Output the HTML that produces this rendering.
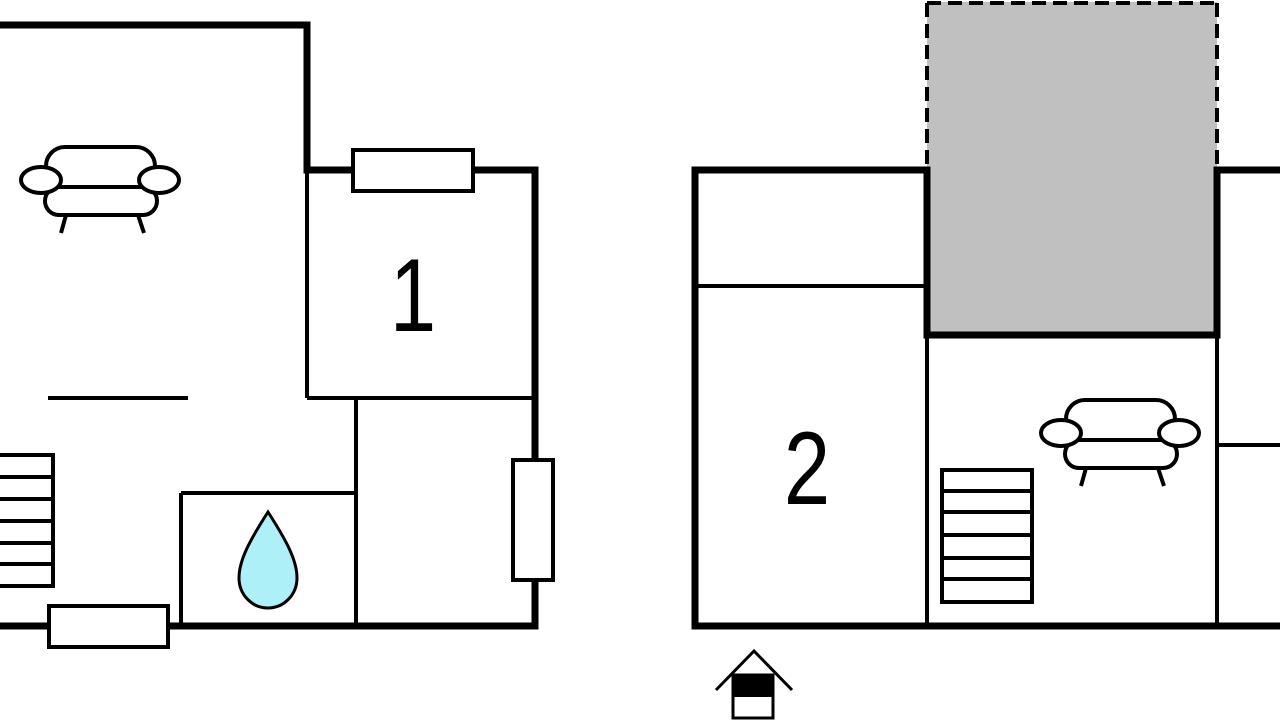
<!DOCTYPE html>
<html><head><meta charset="utf-8"><style>html,body{margin:0;padding:0;background:#fff}svg{display:block}</style></head>
<body>
<svg width="1280" height="720" viewBox="0 0 1280 720" xmlns="http://www.w3.org/2000/svg">
<defs>
<g id="sofa" fill="none" stroke="#000" stroke-width="4">
<rect x="46" y="147" width="109" height="42" rx="19" fill="#fff"/>
<rect x="45" y="187" width="112" height="28" rx="14" fill="#fff"/>
<ellipse cx="41" cy="180" rx="20" ry="13" fill="#fff"/>
<ellipse cx="159" cy="180" rx="20" ry="13" fill="#fff"/>
<line x1="66" y1="215" x2="61" y2="233"/>
<line x1="138" y1="215" x2="144" y2="233"/>
</g>
</defs>
<!-- left building -->
<g fill="none" stroke="#000" stroke-width="4">
<line x1="307" y1="398" x2="535" y2="398"/>
<line x1="356" y1="398" x2="356" y2="626"/>
<line x1="181" y1="493" x2="181" y2="626"/>
<line x1="181" y1="493" x2="356" y2="493"/>
<line x1="48" y1="398" x2="188" y2="398"/>
<line x1="307" y1="170" x2="307" y2="398"/>
</g>
<path d="M0 25 H307 V170 H535 V626 H0" fill="none" stroke="#000" stroke-width="7"/>
<g fill="#fff" stroke="#000" stroke-width="4">
<rect x="353" y="150" width="120" height="41"/>
<rect x="513" y="460" width="40" height="120"/>
<rect x="49" y="606" width="119" height="41"/>
<rect x="-5" y="455" width="58" height="131"/>
</g>
<g stroke="#000" stroke-width="4">
<line x1="0" y1="477" x2="53" y2="477"/><line x1="0" y1="499" x2="53" y2="499"/>
<line x1="0" y1="521" x2="53" y2="521"/><line x1="0" y1="543" x2="53" y2="543"/>
<line x1="0" y1="564" x2="53" y2="564"/>
</g>
<path d="M268 512 C250 540 239 560 239 578 A29 30 0 0 0 297 578 C297 560 286 540 268 512 Z" fill="#aef0f8" stroke="#000" stroke-width="3"/>
<use href="#sofa"/>
<text transform="translate(413,331) scale(0.8,1)" font-family="Liberation Sans, sans-serif" font-size="104" text-anchor="middle">1</text>
<!-- right building -->
<rect x="927" y="2" width="290" height="333" fill="#c0c0c0"/>
<g fill="none" stroke="#000" stroke-width="4" stroke-dasharray="14,7">
<line x1="927" y1="3" x2="1217" y2="3"/>
<line x1="927" y1="3" x2="927" y2="170"/>
<line x1="1217" y1="3" x2="1217" y2="170"/>
</g>
<g fill="none" stroke="#000" stroke-width="4">
<line x1="695" y1="286" x2="927" y2="286"/>
<line x1="927" y1="335" x2="927" y2="626"/>
<line x1="1217" y1="335" x2="1217" y2="626"/>
<line x1="1217" y1="445" x2="1280" y2="445"/>
</g>
<path d="M1280 626 H695 V170 H927 V335 H1217 V170 H1280" fill="none" stroke="#000" stroke-width="7"/>
<line x1="927" y1="167" x2="927" y2="338" stroke="#000" stroke-width="7"/>
<g fill="#fff" stroke="#000" stroke-width="4">
<rect x="942" y="470" width="90" height="132"/>
</g>
<g stroke="#000" stroke-width="4">
<line x1="942" y1="491" x2="1032" y2="491"/><line x1="942" y1="512" x2="1032" y2="512"/>
<line x1="942" y1="535" x2="1032" y2="535"/><line x1="942" y1="558" x2="1032" y2="558"/>
<line x1="942" y1="579" x2="1032" y2="579"/>
</g>
<use href="#sofa" transform="translate(1020,253)"/>
<text transform="translate(807,504) scale(0.8,1)" font-family="Liberation Sans, sans-serif" font-size="104" text-anchor="middle">2</text>
<!-- entrance icon -->
<polyline points="716,690 754,651 792,690" fill="none" stroke="#000" stroke-width="3"/>
<rect x="733" y="675" width="40" height="43" fill="#fff" stroke="#000" stroke-width="3"/>
<rect x="733" y="675" width="40" height="22" fill="#000"/>
</svg>
</body></html>
